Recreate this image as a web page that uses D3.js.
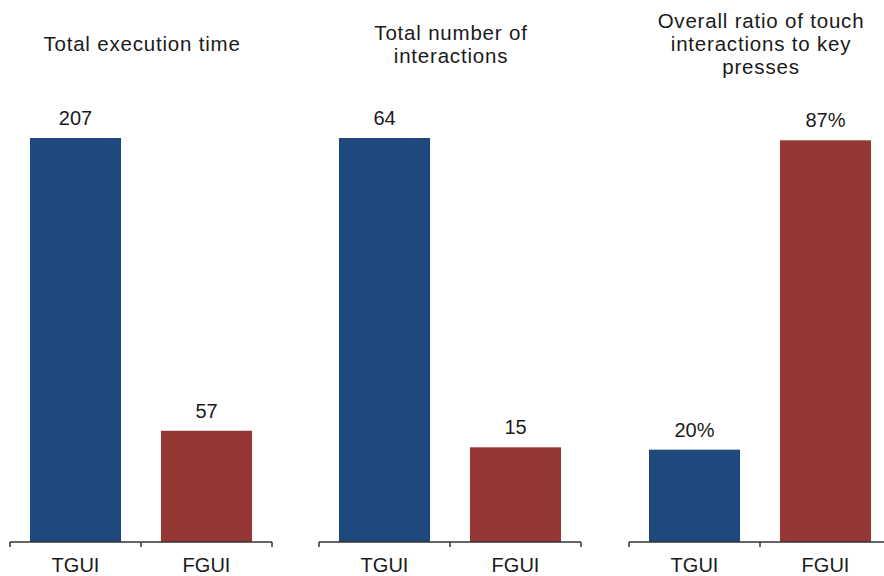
<!DOCTYPE html>
<html>
<head>
<meta charset="utf-8">
<script src="https://cdn.jsdelivr.net/npm/d3@7"></script>
<style>
  html, body { margin: 0; padding: 0; background: #ffffff; }
  svg { display: block; }
  text { font-family: "Liberation Sans", Arial, Helvetica, sans-serif; fill: #1a1a1a; }
</style>
</head>
<body>
<svg id="chart" width="884" height="576"></svg>
<script>
// Interface variants compared in each panel
const categories = ["TGUI", "FGUI"];

// Panel titles (one array of lines per panel)
const panelTitles = [
  ["Total execution time"],
  ["Total number of", "interactions"],
  ["Overall ratio of touch", "interactions to key", "presses"]
];

// Measured values per panel, in category order
const executionTime = [207, 57];
const interactionCount = [64, 15];
const touchRatio = [0.20, 0.87];

// Upper end of each panel's value axis
const axisMax = [207, 64, 0.875];

// How each panel prints its values
const labelFormats = [d3.format("d"), d3.format("d"), d3.format(".0%")];

const barColors = ["#1f497d", "#953735"];

const panels = [executionTime, interactionCount, touchRatio];

const svg = d3.select("#chart");
const baseline = 542;
const barTop = 138;
const panelWidth = 262;
const panelStarts = [10, 319, 629];

const color = d3.scaleOrdinal().domain(categories).range(barColors);

panels.forEach((values, i) => {
  const x0 = panelStarts[i];
  const x = d3.scaleBand()
    .domain(categories)
    .range([x0, x0 + panelWidth])
    .paddingInner(0.305)
    .paddingOuter(0.1525);

  const y = d3.scaleLinear()
    .domain([0, axisMax[i]])
    .range([baseline, barTop]);

  const g = svg.append("g");
  const rows = categories.map((c, j) => ({ cat: c, value: values[j] }));

  // Bars
  g.selectAll("rect")
    .data(rows)
    .join("rect")
    .attr("x", d => x(d.cat))
    .attr("y", d => y(d.value))
    .attr("width", x.bandwidth())
    .attr("height", d => baseline - y(d.value))
    .attr("fill", d => color(d.cat));

  // Value labels above the bars
  g.selectAll("text.value")
    .data(rows)
    .join("text")
    .attr("class", "value")
    .attr("x", d => x(d.cat) + x.bandwidth() / 2)
    .attr("y", d => y(d.value) - 13)
    .attr("text-anchor", "middle")
    .attr("font-size", 20)
    .text(d => labelFormats[i](d.value));

  // Category axis: baseline with ticks at the group boundaries
  const step = x.step();
  const boundaries = [x0, x0 + step, x0 + 2 * step];
  g.append("line")
    .attr("x1", x0).attr("x2", x0 + panelWidth)
    .attr("y1", baseline).attr("y2", baseline)
    .attr("stroke", "#333").attr("stroke-width", 1.5);
  g.selectAll("line.tick")
    .data(boundaries)
    .join("line")
    .attr("class", "tick")
    .attr("x1", d => d).attr("x2", d => d)
    .attr("y1", baseline).attr("y2", baseline + 5)
    .attr("stroke", "#333").attr("stroke-width", 1.5);

  // Category labels
  g.selectAll("text.cat")
    .data(categories)
    .join("text")
    .attr("class", "cat")
    .attr("x", d => x(d) + x.bandwidth() / 2)
    .attr("y", 572)
    .attr("text-anchor", "middle")
    .attr("font-size", 20)
    .text(d => d);

  // Title, vertically centred around a common line
  const lines = panelTitles[i];
  const lineHeight = 23;
  const firstBaseline = 51 - (lines.length - 1) * lineHeight / 2;
  g.append("text")
    .attr("text-anchor", "middle")
    .attr("font-size", 20.5)
    .attr("letter-spacing", 0.8)
    .selectAll("tspan")
    .data(lines)
    .join("tspan")
    .attr("x", x0 + panelWidth / 2 + 1)
    .attr("y", (d, k) => firstBaseline + k * lineHeight)
    .text(d => d);
});
</script>
</body>
</html>
